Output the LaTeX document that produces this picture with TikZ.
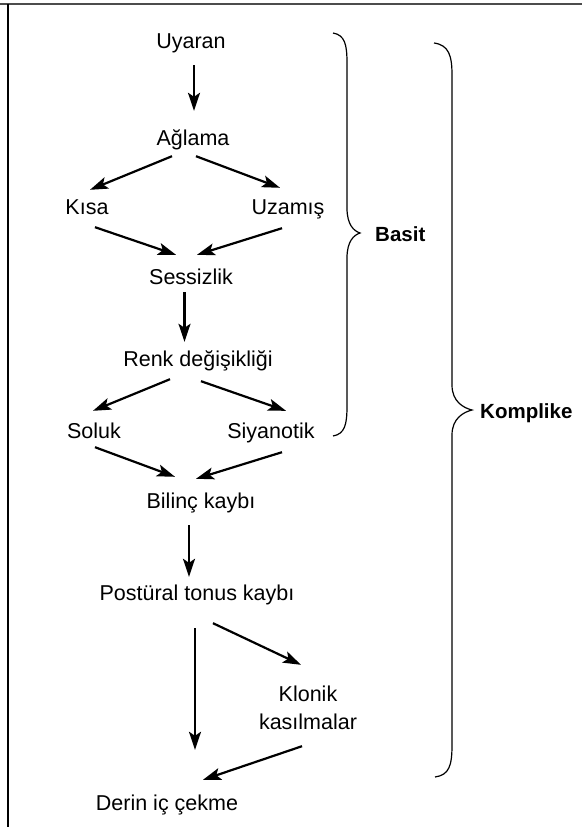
\documentclass[tikz,border=0pt]{standalone}
\usepackage{fontspec}
\setmainfont{Liberation Sans}
\usetikzlibrary{arrows.meta,calc}
\begin{document}
\begin{tikzpicture}[x=1pt,y=-1pt,
  lbl/.style={anchor=base,inner sep=0pt,text height=16pt,text depth=5pt,
    font=\fontsize{21.5}{28}\selectfont},
  blbl/.style={anchor=base west,inner sep=0pt,font=\fontsize{20.5}{26}\selectfont\bfseries},
  arr/.style={line width=2.2pt,-{Stealth[length=18pt,width=12pt,inset=4pt]}},
  brace/.style={line width=1.2pt},
  frame/.style={line width=1.7pt,draw=black!70}]
\useasboundingbox (0,0) rectangle (582,827);
% frame
\coordinate (ftl) at (0,4);
\coordinate (ftr) at (582,4);
\coordinate (fl1) at (8,4);
\coordinate (fl2) at (8,827);
\draw[frame] (ftl) -- (ftr);
\draw[line width=1.2pt] (fl1) -- (fl2);
% nodes
\node[lbl] (uy)   at (191,48)  {Uyaran};
\node[lbl] (agl)  at (193,145) {Ağlama};
\node[lbl] (kisa) at (87,214)  {Kısa};
\node[lbl] (uzm)  at (288,214) {Uzamış};
\node[lbl] (ses)  at (191,284) {Sessizlik};
\node[lbl] (renk) at (198,366) {Renk değişikliği};
\node[lbl] (sol)  at (94,438)  {Soluk};
\node[lbl] (siy)  at (271,438) {Siyanotik};
\node[lbl] (bil)  at (201,508) {Bilinç kaybı};
\node[lbl] (post) at (197,600) {Postüral tonus kaybı};
\node[lbl] (klo)  at (308,701) {Klonik};
\node[lbl] (kas)  at (308,729) {kasılmalar};
\node[lbl] (derin) at (167,810) {Derin iç çekme};
\node[blbl] (basit) at (375,241) {Basit};
\node[blbl] (komp) at (480,418) {Komplike};
% arrows
\draw[arr] ($(uy.south)+(3,12)$) -- ($(agl.north)+(1,-18)$);
\draw[arr] ($(agl.south)+(-21,6)$) -- ($(kisa.north)+(3,-8)$);
\draw[arr] ($(agl.south)+(3,6)$) -- ($(uzm.north)+(-8,-10)$);
\draw[arr] ($(kisa.south)+(8,8)$) -- ($(ses.north)+(-15,-13)$);
\draw[arr] ($(uzm.south)+(-6,9)$) -- ($(ses.north)+(6,-13)$);
\draw[arr] ($(ses.south)+(-6.5,3)$) -- ($(renk.north)+(-13.5,-8)$);
\draw[arr] ($(renk.south)+(-28,8)$) -- ($(sol.north)+(-1,-11)$);
\draw[arr] ($(renk.south)+(3,10)$) -- ($(siy.north)+(15,-11)$);
\draw[arr] ($(sol.south)+(1,4)$) -- ($(bil.north)+(-26,-15)$);
\draw[arr] ($(siy.south)+(11,9)$) -- ($(bil.north)+(-5,-13)$);
\draw[arr] ($(bil.south)+(-12,12)$) -- ($(post.north)+(-8,-7)$);
\draw[arr] ($(post.south)+(-2,23)$) -- ($(derin.north)+(28,-44)$);
\draw[arr] ($(post.south)+(16,18)$) -- ($(klo.north)+(-7,-20)$);
\draw[arr] ($(kas.south)+(-6,12)$) -- ($(derin.north)+(36,-14)$);
% braces
\draw[brace] (333,33) .. controls (345,35) and (347,45) .. (347,63)
  -- (347,208) .. controls (347,225) and (354,231) .. (360,233)
  .. controls (354,235) and (347,241) .. (347,258)
  -- (347,406) .. controls (347,424) and (345,434) .. (333,436);
\draw[brace] (434,43) .. controls (449,45) and (452,56) .. (452,75)
  -- (452,385) .. controls (452,402) and (464,408) .. (472,410)
  .. controls (464,412) and (452,418) .. (452,435)
  -- (452,745) .. controls (452,766) and (449,775) .. (435,777);
\end{tikzpicture}
\end{document}
